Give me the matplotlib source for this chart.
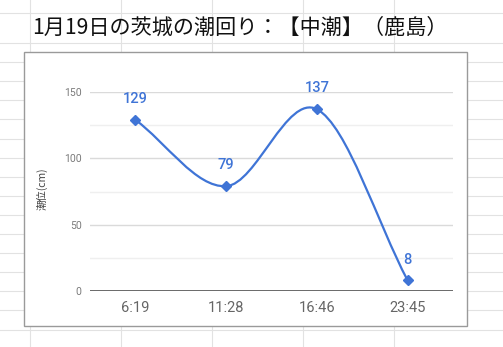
import matplotlib
matplotlib.use('Agg')
import matplotlib.pyplot as plt
from matplotlib.path import Path
from matplotlib.patches import PathPatch, Rectangle
from matplotlib.lines import Line2D

# tide levels at each turning time (cm)
times = ['6:19', '11:28', '16:46', '23:45']
levels = [129, 79, 137, 8]
y_ticks = [0, 50, 100, 150]
y_minor = [25, 75, 125]
title = '1月19日の茨城の潮回り：【中潮】（鹿島）'
y_label = '潮位(cm)'

W, H = 503, 347
blue = '#3f74d6'
jp = ['Noto Sans CJK JP', 'DejaVu Sans']

fig = plt.figure(figsize=(W / 100, H / 100), dpi=100)
fig.patch.set_facecolor('white')


def fx(x):
    return x / W


def fy(y):
    return 1 - y / H


# spreadsheet cell borders behind the chart
rows = [13, 43] + [43 + 19.1 * k for k in range(1, 17)]
cols = [30, 121, 212, 303, 394]
for r in rows:
    fig.add_artist(Line2D([0, 1], [fy(r), fy(r)], color='#e2e2e2', lw=0.8,
                          transform=fig.transFigure, zorder=-3))
for c in cols:
    fig.add_artist(Line2D([fx(c), fx(c)], [0, 1], color='#e2e2e2', lw=0.8,
                          transform=fig.transFigure, zorder=-3))

# chart frame
fig.add_artist(Rectangle((fx(24), fy(326)), fx(467) - fx(24), fy(52) - fy(326),
                         facecolor='white', edgecolor='#9a9a9a', lw=1,
                         transform=fig.transFigure, zorder=-2))

fig.text(fx(32), fy(28), title, ha='left', va='center', fontsize=15.2,
         color='#111111', family=jp)
fig.text(fx(42), fy(189), y_label, ha='center', va='center', rotation=90,
         fontsize=7.5, color='#444444', family=jp)

ax = fig.add_axes([fx(90), fy(291), fx(453) - fx(90), fy(92) - fy(291)])
ax.set_facecolor('none')
for s in ax.spines.values():
    s.set_visible(False)

x = list(range(len(levels)))
ax.set_xlim(-0.5, len(levels) - 0.5)
ax.set_ylim(0, 150)

ax.set_yticks(y_ticks)
ax.set_yticks(y_minor, minor=True)
ax.grid(which='major', axis='y', color='#dadada', lw=1)
ax.grid(which='minor', axis='y', color='#efefef', lw=1)
ax.axhline(0, color='#5f5f5f', lw=1.3, zorder=2)
ax.tick_params(axis='y', which='both', length=0, pad=6, labelsize=7.5,
               labelcolor='#7a7a7a')
ax.set_xticks(x)
ax.set_xticklabels(times)
ax.tick_params(axis='x', length=0, pad=7, labelsize=10.5, labelcolor='#666666')
for lab in ax.get_xticklabels() + ax.get_yticklabels():
    lab.set_family('Roboto')

# smooth curve through the points (Catmull-Rom as cubic Bezier)
n = len(levels)
tang = []
for i in range(n):
    if i == 0:
        tang.append(levels[1] - levels[0])
    elif i == n - 1:
        tang.append(levels[-1] - levels[-2])
    else:
        tang.append((levels[i + 1] - levels[i - 1]) / 2)
verts = [(x[0], levels[0])]
codes = [Path.MOVETO]
for i in range(n - 1):
    verts += [(x[i] + 1 / 3, levels[i] + tang[i] / 3),
              (x[i + 1] - 1 / 3, levels[i + 1] - tang[i + 1] / 3),
              (x[i + 1], levels[i + 1])]
    codes += [Path.CURVE4] * 3
ax.add_patch(PathPatch(Path(verts, codes), facecolor='none', edgecolor=blue,
                       lw=1.6, zorder=3, clip_on=False))
ax.plot(x, levels, 'D', ms=5.5, color=blue, zorder=4, clip_on=False)

for xi, v in zip(x, levels):
    ax.annotate(str(v), (xi, v), xytext=(0, 15), textcoords='offset points',
                ha='center', va='center', fontsize=10.5, color=blue,
                family='Roboto', fontweight='medium', annotation_clip=False)

fig.savefig('out.png', dpi=100)
